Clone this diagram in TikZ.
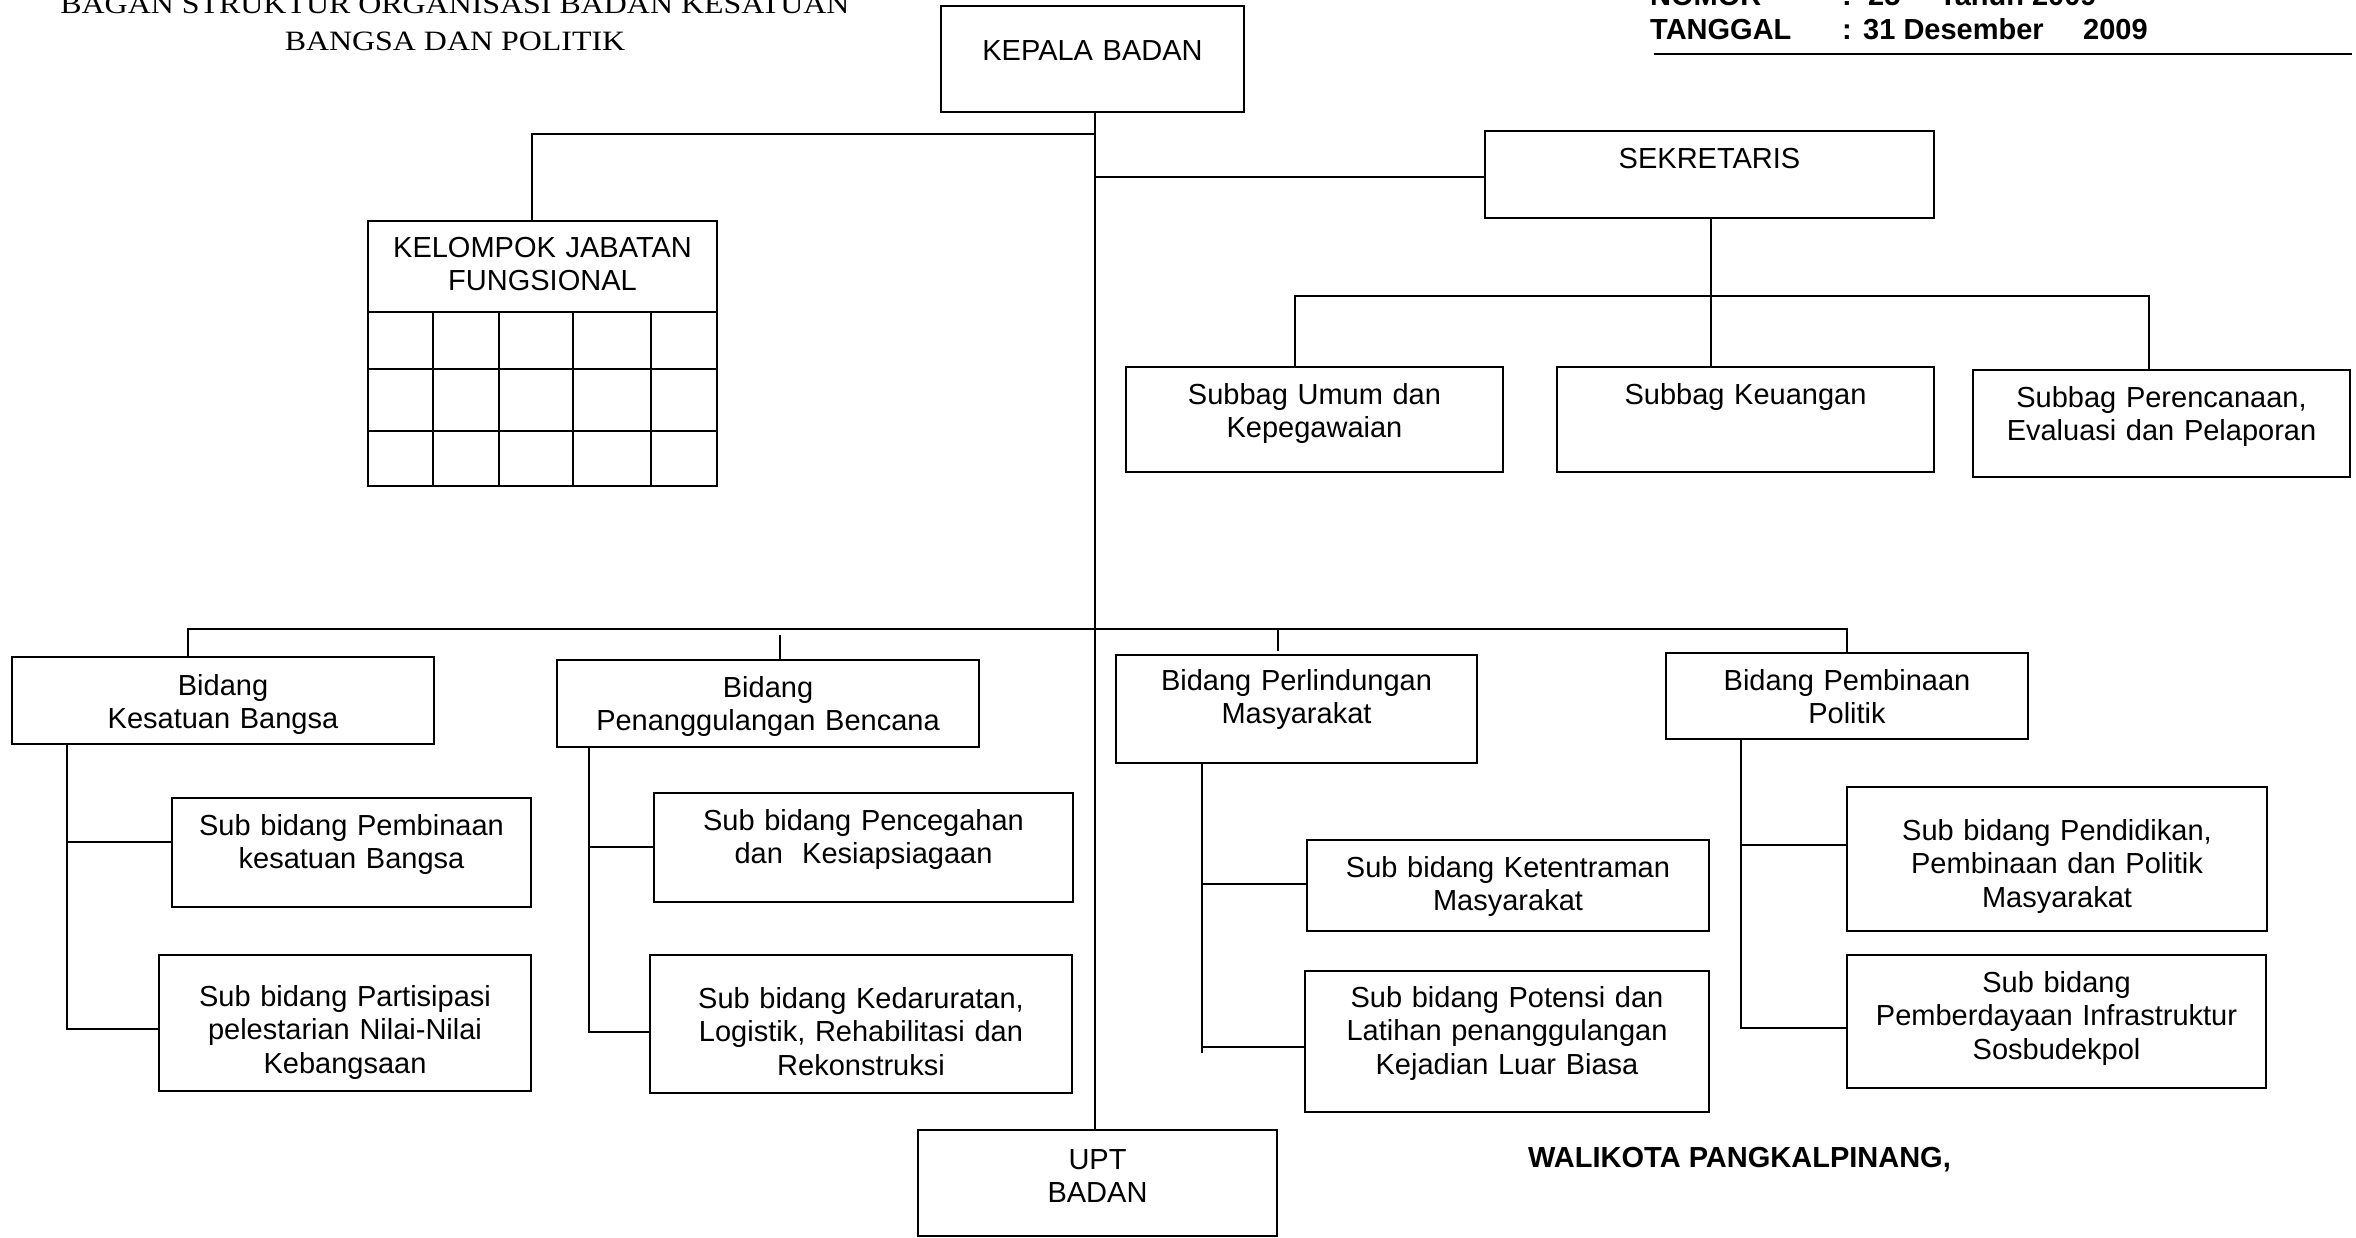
\documentclass[tikz,border=0pt]{standalone}
\usepackage{fontspec}
\setmainfont{Liberation Sans}
\newfontfamily\seriffont{Liberation Serif}
\newcommand\orgbox[7]{%
  \pgfmathsetmacro\obw{#4-#2}%
  \pgfmathsetmacro\obh{#5-#3}%
  \pgfmathsetmacro\obc{(#2+#4)/2}%
  \node[obox, anchor=north west, minimum width=\obw pt, minimum height=\obh pt] (#1) at (#2,#3) {};
  \node[otext, text width=\obw pt, anchor=base] (#1t) at (\obc,#6) {#7};
}
\begin{document}
\begin{tikzpicture}[x=1pt,y=-1pt,
  obox/.style={draw, line width=2.4pt, inner sep=0pt, outer sep=0pt},
  otext/.style={inner sep=0pt, align=center, font=\fontsize{29}{33.5}\selectfont},
  conn/.style={line width=2pt},
  hdr/.style={inner sep=0pt, font=\bfseries\fontsize{29}{33}\selectfont},
  ttl/.style={inner sep=0pt, anchor=base, xscale=1.14, font=\seriffont\fontsize{28}{37}\selectfont}]
\useasboundingbox (0,0) rectangle (2356,1237);

% title
\node[ttl] (title1) at (455,13) {BAGAN STRUKTUR ORGANISASI BADAN KESATUAN};
\node[ttl] (title2) at (455,50) {BANGSA DAN POLITIK};

% header right
\node[hdr, anchor=base west] (nomorL) at (1650,5) {NOMOR};
\node[hdr, anchor=base west] (nomorC) at (1842,5) {:};
\node[hdr, anchor=base west] (nomorV) at (1868,5) {25};
\node[hdr, anchor=base west] (nomorT) at (1939,5) {Tahun 2009};
\node[hdr, anchor=base west] (tglL) at (1650,39) {TANGGAL};
\node[hdr, anchor=base west] (tglC) at (1842,39) {:};
\node[hdr, anchor=base west] (tglV) at (1863,39) {31 Desember};
\node[hdr, anchor=base west] (tglY) at (2083,39) {2009};
\draw[line width=2.6pt] (1654,54) -- (2352,54);

% boxes
\orgbox{kepala}{941}{6}{1244}{112}{60}{KEPALA BADAN}
\orgbox{sek}{1485}{131}{1934}{218}{168}{SEKRETARIS}
\orgbox{kjf}{368}{221}{717}{486}{257}{KELOMPOK JABATAN\\FUNGSIONAL}
\orgbox{umum}{1126}{367}{1503}{472}{404}{Subbag Umum dan\\Kepegawaian}
\orgbox{keu}{1557}{367}{1934}{472}{404}{Subbag Keuangan}
\orgbox{peren}{1973}{370}{2350}{477}{407}{Subbag Perencanaan,\\Evaluasi dan Pelaporan}
\orgbox{kb}{12}{657}{434}{744}{695}{Bidang\\Kesatuan Bangsa}
\orgbox{pb}{557}{660}{979}{747}{697}{Bidang\\Penanggulangan Bencana}
\orgbox{pm}{1116}{655}{1477}{763}{690}{Bidang Perlindungan\\Masyarakat}
\orgbox{pp}{1666}{653}{2028}{739}{690}{Bidang Pembinaan\\Politik}
\orgbox{sa}{172}{798}{531}{907}{835}{Sub bidang Pembinaan\\kesatuan Bangsa}
\orgbox{sb}{159}{955}{531}{1091}{1006}{Sub bidang Partisipasi\\pelestarian Nilai-Nilai\\Kebangsaan}
\orgbox{sc}{654}{793}{1073}{902}{830}{Sub bidang Pencegahan\\dan\ \ Kesiapsiagaan}
\orgbox{sd}{650}{955}{1072}{1093}{1008}{Sub bidang Kedaruratan,\\Logistik, Rehabilitasi dan\\Rekonstruksi}
\orgbox{se}{1307}{840}{1709}{931}{877}{Sub bidang Ketentraman\\Masyarakat}
\orgbox{sf}{1305}{971}{1709}{1112}{1007}{Sub bidang Potensi dan\\Latihan penanggulangan\\Kejadian Luar Biasa}
\orgbox{sg}{1847}{787}{2267}{931}{840}{Sub bidang Pendidikan,\\Pembinaan dan Politik\\Masyarakat}
\orgbox{sh}{1847}{955}{2266}{1088}{992}{Sub bidang\\Pemberdayaan Infrastruktur\\Sosbudekpol}
\orgbox{upt}{918}{1130}{1277}{1236}{1169}{UPT\\BADAN}

% grid of KELOMPOK JABATAN FUNGSIONAL
\foreach \yy in {312,369,431} \draw[line width=2.4pt] (kjf.west |- 0,\yy) -- (kjf.east |- 0,\yy);
\foreach \xx in {433,499,573,651} \draw[line width=2.4pt] (\xx,312) -- (\xx,486);

\node[hdr, anchor=base west] (wali) at (1528,1167) {WALIKOTA PANGKALPINANG,};

% connectors
\coordinate (spine) at (1095,0);
\draw[conn] (kepala.south -| spine) -- (upt.north -| spine);
\coordinate (kjfbar) at (1095,134);
\coordinate (kjfdrop) at (532,134);
\draw[conn] (kjfbar) -- (kjfdrop) -- (kjfdrop |- kjf.north);
\coordinate (sekj) at (1095,177);
\draw[conn] (sekj) -- (sekj -| sek.west);
\coordinate (sekd) at (1711,296);
\coordinate (sbL) at (1295,296);
\coordinate (sbR) at (2149,296);
\draw[conn] (sek.south -| sekd) -- (sekd |- keu.north);
\draw[conn] (sbL |- umum.north) -- (sbL) -- (sbR) -- (sbR |- peren.north);

\coordinate (mbL) at (188,629);
\coordinate (mbR) at (1847,629);
\draw[conn] (kb.north -| mbL) -- (mbL) -- (mbR) -- (mbR |- pp.north);
\coordinate (pbt) at (780,635);
\draw[conn] (pbt) -- (pbt |- pb.north);
\coordinate (pmt) at (1278,628);
\coordinate (pmt2) at (1278,651);
\draw[conn] (pmt) -- (pmt2);

\coordinate (kbv) at (67,1029);
\coordinate (kbh) at (67,842);
\draw[conn] (kb.south -| kbv) -- (kbv) -- (kbv -| sb.west);
\draw[conn] (kbh) -- (kbh -| sa.west);

\coordinate (pbv) at (589,1032);
\coordinate (pbh) at (589,847);
\draw[conn] (pb.south -| pbv) -- (pbv) -- (pbv -| sd.west);
\draw[conn] (pbh) -- (pbh -| sc.west);

\coordinate (pmv) at (1202,1053);
\coordinate (pmh1) at (1202,884);
\coordinate (pmh2) at (1202,1047);
\draw[conn] (pm.south -| pmv) -- (pmv);
\draw[conn] (pmh1) -- (pmh1 -| se.west);
\draw[conn] (pmh2) -- (pmh2 -| sf.west);

\coordinate (ppv) at (1741,1028);
\coordinate (pph) at (1741,845);
\draw[conn] (pp.south -| ppv) -- (ppv) -- (ppv -| sh.west);
\draw[conn] (pph) -- (pph -| sg.west);
\end{tikzpicture}
\end{document}
